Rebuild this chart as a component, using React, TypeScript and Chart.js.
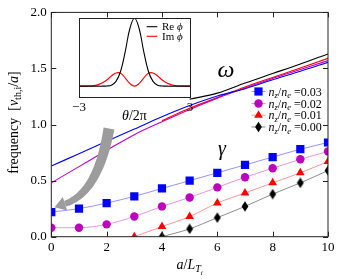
import React, { useEffect, useRef } from 'react';
import { Chart, registerables } from 'chart.js';
Chart.register(...registerables);

// ---- data ----
const X_VALUES = [0, 1, 2, 3, 4, 5, 6, 7, 8, 9, 10];
const GAMMA_003 = [0.22, 0.25, 0.30, 0.36, 0.43, 0.50, 0.57, 0.64, 0.71, 0.78, 0.84];
const GAMMA_002 = [0.08, 0.08, 0.11, 0.18, 0.27, 0.35, 0.44, 0.53, 0.61, 0.69, 0.76];
const GAMMA_001 = [null, null, null, 0.0, 0.09, 0.18, 0.30, 0.39, 0.48, 0.57, 0.67];
const GAMMA_000 = [null, null, null, null, 0.0, 0.07, 0.17, 0.27, 0.38, 0.48, 0.59];
const OMEGA_003 = [0.63, 0.74, 0.85, 0.96, 1.07, 1.17, 1.255, 1.32, 1.40, 1.475, 1.555];
const OMEGA_002 = [0.48, 0.625, 0.77, 0.91, 1.025, 1.135, 1.235, 1.325, 1.41, 1.49, 1.57];
const OMEGA_001 = [null, null, null, null, 1.035, 1.145, 1.24, 1.335, 1.42, 1.505, 1.59];
const OMEGA_000 = [null, null, null, null, null, 1.225, 1.28, 1.37, 1.455, 1.54, 1.63];
const LEGEND_VALUES = ['0.03', '0.02', '0.01', '0.00'];
const X_TICKS = [0, 2, 4, 6, 8, 10];
const Y_TICKS = [0, 0.5, 1.0, 1.5, 2.0];

// inset
const THETA = [-3, -2.75, -2.5, -2.25, -2, -1.75, -1.5, -1.25, -1, -0.75, -0.5, -0.25, 0, 0.25, 0.5, 0.75, 1, 1.25, 1.5, 1.75, 2, 2.25, 2.5, 2.75, 3];
const RE_PHI = [0, 0, 0, 0, 0, 0, 0.003, 0.015, 0.07, 0.22, 0.51, 0.85, 1.0, 0.85, 0.51, 0.22, 0.07, 0.015, 0.003, 0, 0, 0, 0, 0, 0];
const IM_PHI = [0, 0, 0.002, 0.007, 0.02, 0.045, 0.09, 0.15, 0.195, 0.19, 0.12, 0.04, 0, 0.04, 0.12, 0.19, 0.195, 0.15, 0.09, 0.045, 0.02, 0.007, 0.002, 0, 0];
const INSET_TICKS = [-3, 3];

// annotation anchors (data units)
const OMEGA_LABEL_AT = [6.31, 1.48];
const GAMMA_LABEL_AT = [6.17, 0.773];
const ARROW_TAIL = [2.085, 0.965];
const ARROW_CTRL = [1.688, 0.39];
const ARROW_NECK = [0.495, 0.294];

const SERIF = '"Liberation Serif", "Times New Roman", "DejaVu Serif", serif';

type Part = { t: string; f: string; dy?: number };
function richWidth(ctx: CanvasRenderingContext2D, parts: Part[]) {
  let w = 0;
  for (const p of parts) { ctx.font = p.f; w += ctx.measureText(p.t).width; }
  return w;
}
function drawRich(ctx: CanvasRenderingContext2D, parts: Part[], x: number, y: number, align: 'left' | 'center' | 'right') {
  const w = richWidth(ctx, parts);
  let cx = align === 'center' ? x - w / 2 : align === 'right' ? x - w : x;
  ctx.textAlign = 'left';
  ctx.textBaseline = 'alphabetic';
  for (const p of parts) {
    ctx.font = p.f;
    ctx.fillText(p.t, cx, y + (p.dy || 0));
    cx += ctx.measureText(p.t).width;
  }
}

function makeDiamond(color: string) {
  const c = document.createElement('canvas');
  c.width = 8; c.height = 11;
  const g = c.getContext('2d')!;
  g.fillStyle = color;
  g.beginPath();
  g.moveTo(4, 0.3); g.lineTo(7.4, 5.5); g.lineTo(4, 10.7); g.lineTo(0.6, 5.5);
  g.closePath(); g.fill();
  return c;
}

function drawMarker(ctx: CanvasRenderingContext2D, kind: string, x: number, y: number, color: string) {
  ctx.fillStyle = color;
  ctx.beginPath();
  if (kind === 'rect') {
    ctx.rect(x - 4.1, y - 4.1, 8.2, 8.2);
  } else if (kind === 'circle') {
    ctx.arc(x, y, 4.2, 0, Math.PI * 2);
  } else if (kind === 'triangle') {
    const r = 5;
    ctx.moveTo(x, y - r);
    ctx.lineTo(x + r * Math.sin(2 * Math.PI / 3), y - r * Math.cos(2 * Math.PI / 3));
    ctx.lineTo(x + r * Math.sin(4 * Math.PI / 3), y - r * Math.cos(4 * Math.PI / 3));
    ctx.closePath();
  } else {
    ctx.moveTo(x, y - 5.2); ctx.lineTo(x + 3.4, y); ctx.lineTo(x, y + 5.2); ctx.lineTo(x - 3.4, y);
    ctx.closePath();
  }
  ctx.fill();
}

const toPts = (arr: (number | null)[]) =>
  X_VALUES.map((x, i) => ({ x, y: arr[i] })).filter((p) => p.y !== null) as { x: number; y: number }[];

export default function App() {
  const mainRef = useRef<HTMLCanvasElement>(null);
  const insetRef = useRef<HTMLCanvasElement>(null);

  useEffect(() => {
    const STYLES = [
      { gamma: GAMMA_003, omega: OMEGA_003, color: '#0000ff', light: 'rgba(0,0,255,0.42)', kind: 'rect' },
      { gamma: GAMMA_002, omega: OMEGA_002, color: '#bf00bf', light: 'rgba(191,0,191,0.42)', kind: 'circle' },
      { gamma: GAMMA_001, omega: OMEGA_001, color: '#ff0000', light: 'rgba(255,0,0,0.42)', kind: 'triangle' },
      { gamma: GAMMA_000, omega: OMEGA_000, color: '#000000', light: 'rgba(0,0,0,0.45)', kind: 'diamond' },
    ];
    const diamond = makeDiamond('#000000');

    const gammaSets = STYLES.map((s) => ({
      type: 'line' as const,
      data: toPts(s.gamma),
      borderColor: s.light,
      borderWidth: 1,
      pointStyle: s.kind === 'diamond' ? diamond : s.kind,
      pointRadius: s.kind === 'rect' ? 5.8 : s.kind === 'circle' ? 4.2 : 5,
      pointBackgroundColor: s.color,
      pointBorderColor: s.color,
      pointBorderWidth: 0,
      cubicInterpolationMode: 'monotone' as const,
      clip: 0,
    }));
    const omegaSets = STYLES.map((s) => ({
      type: 'line' as const,
      data: toPts(s.omega),
      borderColor: s.color,
      borderWidth: 1.1,
      pointRadius: 0,
      cubicInterpolationMode: 'monotone' as const,
      clip: 0,
    }));

    const decor = {
      id: 'decor',
      afterDatasetsDraw(chart: any) {
        const ctx: CanvasRenderingContext2D = chart.ctx;
        const xs = chart.scales.x, ys = chart.scales.y;
        const P = (p: number[]) => [xs.getPixelForValue(p[0]), ys.getPixelForValue(p[1])];
        const [x0, y0] = P(ARROW_TAIL), [cx, cy] = P(ARROW_CTRL), [x1, y1] = P(ARROW_NECK);
        const left: number[][] = [], right: number[][] = [];
        const N = 40;
        let ux = 0, uy = 0;
        for (let i = 0; i <= N; i++) {
          const t = i / N;
          const bx = (1 - t) * (1 - t) * x0 + 2 * (1 - t) * t * cx + t * t * x1;
          const by = (1 - t) * (1 - t) * y0 + 2 * (1 - t) * t * cy + t * t * y1;
          const dx = 2 * (1 - t) * (cx - x0) + 2 * t * (x1 - cx);
          const dy = 2 * (1 - t) * (cy - y0) + 2 * t * (y1 - cy);
          const len = Math.hypot(dx, dy);
          ux = dx / len; uy = dy / len;
          const w = 5.5 * (1 - t) + 3 * t;
          left.push([bx - uy * w, by + ux * w]);
          right.push([bx + uy * w, by - ux * w]);
        }
        ctx.save();
        ctx.fillStyle = '#9c9c9c';
        ctx.beginPath();
        left.forEach((p, i) => (i ? ctx.lineTo(p[0], p[1]) : ctx.moveTo(p[0], p[1])));
        for (let i = right.length - 1; i >= 0; i--) ctx.lineTo(right[i][0], right[i][1]);
        ctx.closePath();
        ctx.fill();
        const hw = 7, hl = 11;
        ctx.beginPath();
        ctx.moveTo(x1 - uy * hw, y1 + ux * hw);
        ctx.lineTo(x1 + ux * hl, y1 + uy * hl);
        ctx.lineTo(x1 + uy * hw, y1 - ux * hw);
        ctx.closePath();
        ctx.fill();
        ctx.restore();
      },
      afterDraw(chart: any) {
        const ctx: CanvasRenderingContext2D = chart.ctx;
        const { left, right, top, bottom } = chart.chartArea;
        const xs = chart.scales.x, ys = chart.scales.y;
        ctx.save();
        ctx.strokeStyle = '#222';
        ctx.lineWidth = 1;
        ctx.strokeRect(left, top, right - left, bottom - top);
        ctx.beginPath();
        const TL = 5;
        for (const v of X_TICKS) {
          const px = Math.round(xs.getPixelForValue(v)) + 0.5;
          ctx.moveTo(px, bottom); ctx.lineTo(px, bottom - TL);
          ctx.moveTo(px, top); ctx.lineTo(px, top + TL);
        }
        for (const v of Y_TICKS) {
          const py = Math.round(ys.getPixelForValue(v)) + 0.5;
          ctx.moveTo(left, py); ctx.lineTo(left + TL, py);
          ctx.moveTo(right, py); ctx.lineTo(right - TL, py);
        }
        ctx.stroke();

        ctx.fillStyle = '#000';
        // y-axis title
        ctx.save();
        ctx.translate(13, 122.5);
        ctx.rotate(-Math.PI / 2);
        const F = `14px ${SERIF}`, FI = `italic 14px ${SERIF}`;
        drawRich(ctx, [
          { t: 'frequency', f: F },
          { t: '  ', f: F },
          { t: '[', f: F },
          { t: 'v', f: FI },
          { t: 'th,i', f: `10px ${SERIF}`, dy: 3 },
          { t: '/', f: F },
          { t: 'a', f: FI },
          { t: ']', f: F },
        ], 0, 4.5, 'center');
        ctx.restore();
        // x-axis title
        drawRich(ctx, [
          { t: 'a', f: FI },
          { t: '/', f: F },
          { t: 'L', f: FI },
          { t: 'T', f: `italic 10px ${SERIF}`, dy: 3 },
          { t: 'i', f: `italic 7px ${SERIF}`, dy: 5.5 },
        ], (left + right) / 2, 269, 'center');

        // annotations
        ctx.textAlign = 'center';
        ctx.textBaseline = 'middle';
        ctx.font = `italic 24px ${SERIF}`;
        ctx.fillText('ω', xs.getPixelForValue(OMEGA_LABEL_AT[0]), ys.getPixelForValue(OMEGA_LABEL_AT[1]));
        ctx.font = `italic 20px ${SERIF}`;
        ctx.fillText('γ', xs.getPixelForValue(GAMMA_LABEL_AT[0]), ys.getPixelForValue(GAMMA_LABEL_AT[1]));

        // legend
        const rowY = [91.5, 103.5, 115.2, 127];
        STYLES.forEach((s, i) => {
          const y = rowY[i];
          const mx = right - 69.5;
          ctx.strokeStyle = s.light;
          ctx.lineWidth = 1;
          ctx.beginPath(); ctx.moveTo(mx - 7, y); ctx.lineTo(mx + 7, y); ctx.stroke();
          drawMarker(ctx, s.kind, mx, y, s.color);
          ctx.fillStyle = '#000';
          drawRich(ctx, [
            { t: 'n', f: `italic 12px ${SERIF}` },
            { t: 'z', f: `italic 8.5px ${SERIF}`, dy: 2.5 },
            { t: '/', f: `12px ${SERIF}` },
            { t: 'n', f: `italic 12px ${SERIF}` },
            { t: 'e', f: `italic 8.5px ${SERIF}`, dy: 2.5 },
            { t: ' =' + LEGEND_VALUES[i], f: `12px ${SERIF}` },
          ], right - 59.5, y + 4, 'left');
        });
        ctx.restore();
      },
    };

    const main = new Chart(mainRef.current!, {
      type: 'line',
      data: { datasets: [...gammaSets, ...omegaSets] as any },
      options: {
        animation: false,
        responsive: false,
        maintainAspectRatio: false,
        layout: { padding: { left: 0, right: 10, top: 7.3, bottom: 0 } },
        plugins: { legend: { display: false }, tooltip: { enabled: false } },
        scales: {
          x: {
            type: 'linear', min: 0, max: 10,
            afterFit: (s: any) => { s.height = 42.3; },
            afterBuildTicks: (s: any) => { s.ticks = X_TICKS.map((v) => ({ value: v })); },
            grid: { display: false, drawTicks: false },
            border: { display: false },
            ticks: { padding: 3, color: '#000', font: { family: SERIF, size: 13 }, maxRotation: 0 },
          },
          y: {
            type: 'linear', min: 0, max: 2,
            afterFit: (s: any) => { s.width = 51.3; },
            afterBuildTicks: (s: any) => { s.ticks = Y_TICKS.map((v) => ({ value: v })); },
            grid: { display: false, drawTicks: false },
            border: { display: false },
            ticks: { padding: 4.6, color: '#000', font: { family: SERIF, size: 13 }, callback: (v: any) => Number(v).toFixed(1) },
          },
        },
      },
      plugins: [decor],
    });

    const insetDecor = {
      id: 'insetDecor',
      beforeDraw(chart: any) {
        const ctx: CanvasRenderingContext2D = chart.ctx;
        const { left, right, top, bottom } = chart.chartArea;
        ctx.save();
        ctx.fillStyle = '#fff';
        ctx.fillRect(left, top, right - left, bottom - top);
        ctx.restore();
      },
      afterDraw(chart: any) {
        const ctx: CanvasRenderingContext2D = chart.ctx;
        const { left, right, top, bottom } = chart.chartArea;
        const xs = chart.scales.x;
        ctx.save();
        ctx.strokeStyle = '#222';
        ctx.lineWidth = 1;
        ctx.strokeRect(Math.round(left) + 0.5, Math.round(top) + 0.5, Math.round(right - left), Math.round(bottom - top));
        ctx.fillStyle = '#000';
        ctx.font = `13px ${SERIF}`;
        ctx.textAlign = 'center';
        ctx.textBaseline = 'middle';
        for (const v of INSET_TICKS) {
          ctx.fillText(v < 0 ? '−' + Math.abs(v) : String(v), xs.getPixelForValue(v), bottom + 10);
        }
        drawRich(ctx, [
          { t: 'θ', f: `italic 14px ${SERIF}` },
          { t: '/2π', f: `14px ${SERIF}` },
        ], (left + right) / 2, bottom + 22.5, 'center');
        // legend
        const rows = [{ c: '#000', t: 'Re' }, { c: '#ff0000', t: 'Im' }];
        rows.forEach((r, i) => {
          const y = top + 8.4 + i * 9.6;
          ctx.strokeStyle = r.c;
          ctx.lineWidth = 1.1;
          ctx.beginPath(); ctx.moveTo(right - 43.3, y); ctx.lineTo(right - 32.7, y); ctx.stroke();
          ctx.fillStyle = '#000';
          drawRich(ctx, [
            { t: r.t + ' ', f: `11px ${SERIF}` },
            { t: 'ϕ', f: `italic 11px ${SERIF}` },
          ], right - 28, y + 3.5, 'left');
        });
        ctx.restore();
      },
    };

    const inset = new Chart(insetRef.current!, {
      type: 'line',
      data: {
        datasets: [
          { data: THETA.map((x, i) => ({ x, y: RE_PHI[i] })), borderColor: '#000', borderWidth: 1.1, pointRadius: 0, tension: 0.4 },
          { data: THETA.map((x, i) => ({ x, y: IM_PHI[i] })), borderColor: '#ff0000', borderWidth: 1.1, pointRadius: 0, tension: 0.4 },
        ] as any,
      },
      options: {
        animation: false,
        responsive: false,
        maintainAspectRatio: false,
        layout: { padding: { left: 19, right: 10, top: 10.3, bottom: 30.3 } },
        plugins: { legend: { display: false }, tooltip: { enabled: false } },
        scales: {
          x: { type: 'linear', min: -3, max: 3, display: false },
          y: { type: 'linear', min: -0.17, max: 1.0, display: false },
        },
      },
      plugins: [insetDecor],
    });

    return () => { main.destroy(); inset.destroy(); };
  }, []);

  return (
    <div style={{ position: 'fixed', left: 0, top: 0, width: 338, height: 279, background: '#fff' }}>
      <canvas ref={mainRef} width={338} height={279} style={{ position: 'absolute', left: 0, top: 0, width: 338, height: 279 }} />
      <canvas ref={insetRef} width={140} height={120} style={{ position: 'absolute', left: 60, top: 8, width: 140, height: 120 }} />
    </div>
  );
}
